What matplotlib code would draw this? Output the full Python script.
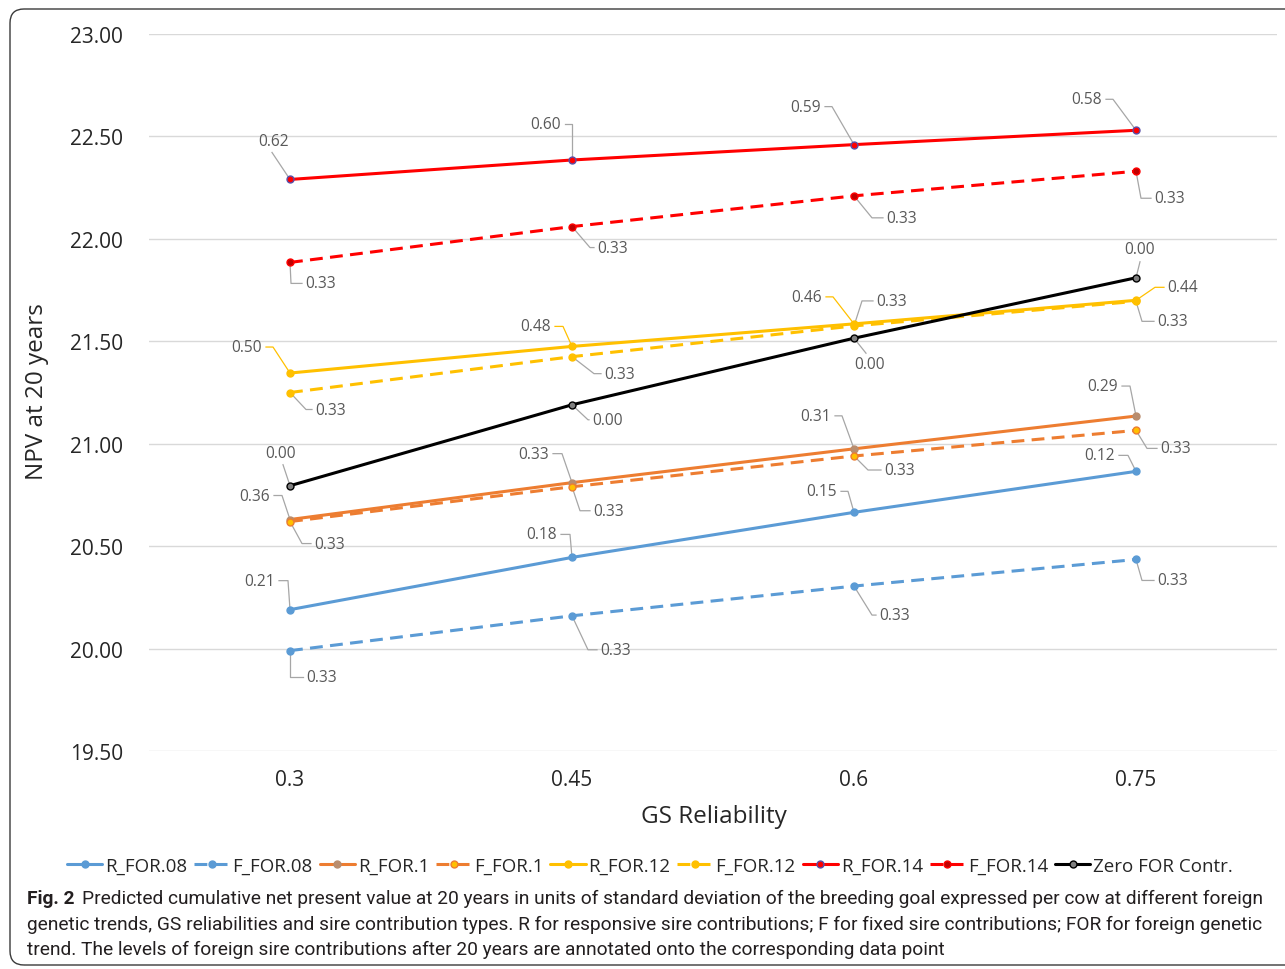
import matplotlib
matplotlib.use('Agg')
import matplotlib.pyplot as plt
import matplotlib.transforms as mtrans
from matplotlib.lines import Line2D
from matplotlib.patches import FancyBboxPatch
from matplotlib import font_manager
import numpy as np

# ---------------- data ----------------
categories = ['0.3', '0.45', '0.6', '0.75']
R_FOR08 = [20.19, 20.445, 20.665, 20.865]
F_FOR08 = [19.99, 20.16, 20.305, 20.435]
R_FOR1 = [20.63, 20.81, 20.975, 21.135]
F_FOR1 = [20.62, 20.79, 20.94, 21.065]
R_FOR12 = [21.345, 21.475, 21.585, 21.70]
F_FOR12 = [21.25, 21.425, 21.575, 21.695]
R_FOR14 = [22.29, 22.385, 22.46, 22.53]
F_FOR14 = [21.885, 22.06, 22.21, 22.33]
ZERO = [20.795, 21.19, 21.515, 21.81]

lab_R08 = ['0.21', '0.18', '0.15', '0.12']
lab_F08 = ['0.33', '0.33', '0.33', '0.33']
lab_R1 = ['0.36', '0.33', '0.31', '0.29']
lab_F1 = ['0.33', '0.33', '0.33', '0.33']
lab_R12 = ['0.50', '0.48', '0.46', '0.44']
lab_F12 = ['0.33', '0.33', '0.33', '0.33']
lab_R14 = ['0.62', '0.60', '0.59', '0.58']
lab_F14 = ['0.33', '0.33', '0.33', '0.33']
lab_ZERO = ['0.00', '0.00', '0.00', '0.00']

y_ticks = [19.5, 20.0, 20.5, 21.0, 21.5, 22.0, 22.5, 23.0]
legend_names = ['R_FOR.08', 'F_FOR.08', 'R_FOR.1', 'F_FOR.1', 'R_FOR.12',
                'F_FOR.12', 'R_FOR.14', 'F_FOR.14', 'Zero FOR Contr.']

# ---------------- label layout (pixel offsets, y down: text x, text y, corner x, corner y, straight) -------------
lay_R14 = [(-16, -38, -18, -27, True), (-26, -36, 0, -36, False), (-48, -38, -22, -38, False), (-49, -31, -23, -31, False)]
lay_F14 = [(31, 21, 1, 21, False), (41, 21, 18, 21, False), (48, 22, 18, 22, False), (34, 27, 5, 27, False)]
lay_ZERO = [(-9, -33, -7, -21, True), (36, 15, 16, 15, False), (16, 26, 12, 15, True), (4, -29, 4, -16, True)]
lay_R12 = [(-43, -26, -17, -26, False), (-36, -20, -9, -20, False), (-47, -27, -21, -27, False), (47, -13, 19, -13, False)]
lay_F12 = [(41, 17, 16, 17, False), (48, 17, 22, 17, False), (38, -25, 8, -25, False), (37, 20, 6, 20, False)]
lay_R1 = [(-35, -24, -8, -24, False), (-38, -29, -10, -29, False), (-38, -33, -12, -33, False), (-33, -30, -6, -30, False)]
lay_F1 = [(40, 22, 12, 22, False), (37, 24, 8, 24, False), (46, 14, 14, 14, False), (40, 18, 11, 18, False)]
lay_R08 = [(-30, -29, -2, -29, False), (-30, -23, -2, -23, False), (-32, -21, -6, -21, False), (-36, -16, -8, -16, False)]
lay_F08 = [(32, 26, 0, 26, False), (44, 34, 16, 34, False), (41, 29, 18, 29, False), (37, 21, 6, 21, False)]

plt.rcParams['font.family'] = ['Open Sans', 'DejaVu Sans']

W, H = 1285, 970
fig = plt.figure(figsize=(W / 100, H / 100), dpi=100)
ax = fig.add_axes([149 / W, 218 / H, 1128 / W, 717 / H])
x = np.arange(len(categories))

BLUE, ORANGE, GOLD, RED, BLACK = '#5b9bd5', '#ed7d31', '#ffc000', '#ff0000', '#000000'
LW = 2.2
DASH = (0, (4.2, 2.4))

series = [
    (R_FOR08, '-', BLUE, BLUE, BLUE, lab_R08, lay_R08, '#a6a6a6'),
    (F_FOR08, DASH, BLUE, BLUE, BLUE, lab_F08, lay_F08, '#a6a6a6'),
    (R_FOR1, '-', ORANGE, '#b98d6e', '#b98d6e', lab_R1, lay_R1, '#a6a6a6'),
    (F_FOR1, DASH, ORANGE, GOLD, ORANGE, lab_F1, lay_F1, '#a6a6a6'),
    (R_FOR12, '-', GOLD, GOLD, GOLD, lab_R12, lay_R12, GOLD),
    (F_FOR12, DASH, GOLD, GOLD, GOLD, lab_F12, lay_F12, '#a6a6a6'),
    (R_FOR14, '-', RED, RED, '#5a4fa8', lab_R14, lay_R14, '#a6a6a6'),
    (F_FOR14, DASH, RED, '#c00000', RED, lab_F14, lay_F14, '#a6a6a6'),
    (ZERO, '-', BLACK, '#7f7f7f', BLACK, lab_ZERO, lay_ZERO, '#a6a6a6'),
]

handles = []
for (vals, ls, col, mfc, mec, labs, lay, lcol), name in zip(series, legend_names):
    h, = ax.plot(x, vals, linestyle=ls, color=col, lw=LW, marker='o', markersize=5,
                 markerfacecolor=mfc, markeredgecolor=mec, markeredgewidth=1.0,
                 solid_capstyle='round', dash_capstyle='butt', zorder=3)
    handles.append(h)
    for xi, yi, t, (tx, ty, cx, cy, st) in zip(x, vals, labs, lay):
        ax.annotate(t, xy=(xi, yi), xytext=(tx, -ty), textcoords='offset pixels',
                    ha='center', va='center', fontsize=11.2, color='#595959', zorder=5)
        tr = mtrans.ScaledTranslation(xi, yi, ax.transData)
        ccx, ccy = cx, -cy
        d = np.hypot(ccx, ccy)
        sx, sy = (ccx / d * 2.5, ccy / d * 2.5) if d > 0 else (0, 0)
        xs, ys = [sx, ccx], [sy, ccy]
        if not st:
            sgn = 1 if tx > cx else -1
            xs.append(tx - sgn * 19)
            ys.append(-ty)
        ln = Line2D(xs, ys, color=lcol, lw=0.9, transform=tr, clip_on=False, zorder=2)
        ax.add_artist(ln)

ax.set_xlim(-0.5, len(categories) - 0.5)
ax.set_ylim(19.5, 23.0)
ax.set_xticks(x)
ax.set_xticklabels(categories)
ax.set_yticks(y_ticks)
ax.set_yticklabels(['{:.2f}'.format(v) for v in y_ticks])
ax.tick_params(axis='both', length=0, labelsize=15, colors='#262626')
ax.tick_params(axis='y', pad=18.5)
ax.tick_params(axis='x', pad=13)
ax.grid(axis='y', color='#d9d9d9', lw=1.0)
ax.set_axisbelow(True)
for s in ax.spines.values():
    s.set_visible(False)

fig.text(37 / W, 1 - 392 / H, 'NPV at 20 years', rotation=90, ha='center', va='center',
         fontsize=17.5, color='#262626')
fig.text(714 / W, 1 - 817 / H, 'GS Reliability', ha='center', va='center',
         fontsize=17.5, color='#262626')

leg = fig.legend(handles, legend_names, loc='center', bbox_to_anchor=(650 / W, 1 - 867 / H),
                 ncol=9, frameon=False, fontsize=13.5, handlelength=1.87, handletextpad=0.16,
                 columnspacing=0.37, borderpad=0, labelcolor='#262626')

# frame
frame = FancyBboxPatch((10, 4), 1310, 956, boxstyle='round,pad=0,rounding_size=14',
                       facecolor='none', edgecolor='#3a3a3a', lw=1.0,
                       transform=mtrans.IdentityTransform())
fig.add_artist(frame)

# caption
avail = {f.name for f in font_manager.fontManager.ttflist}
cap_family = 'Liberation Sans Narrow' if 'Liberation Sans Narrow' in avail else 'Roboto'
cap_lines = [
    'Predicted cumulative net present value at 20 years in units of standard deviation of the breeding goal expressed per cow at different foreign',
    'genetic trends, GS reliabilities and sire contribution types. R for responsive sire contributions; F for fixed sire contributions; FOR for foreign genetic',
    'trend. The levels of foreign sire contributions after 20 years are annotated onto the corresponding data point',
]
cap_y = [899, 925, 950]
fs0 = 14
renderer = fig.canvas.get_renderer()
bold = fig.text(27 / W, 1 - cap_y[0] / H, 'Fig. 2', fontsize=fs0, weight='bold',
                family=cap_family, va='center', ha='left', color='#231f20')
rest = fig.text(0, 1 - cap_y[0] / H, cap_lines[0], fontsize=fs0, family=cap_family,
                va='center', ha='left', color='#231f20')
wb = bold.get_window_extent(renderer).width
wr = rest.get_window_extent(renderer).width
gap = 0.55 * fs0
scale = (1272 - 27) / (wb + gap + wr)
fs = fs0 * scale
bold.set_fontsize(fs)
rest.set_fontsize(fs)
wb = bold.get_window_extent(renderer).width
rest.set_x((27 + wb + 0.55 * fs) / W)
for line, yy in zip(cap_lines[1:], cap_y[1:]):
    fig.text(27 / W, 1 - yy / H, line, fontsize=fs, family=cap_family, va='center',
             ha='left', color='#231f20')

fig.savefig('out.png', dpi=100)
